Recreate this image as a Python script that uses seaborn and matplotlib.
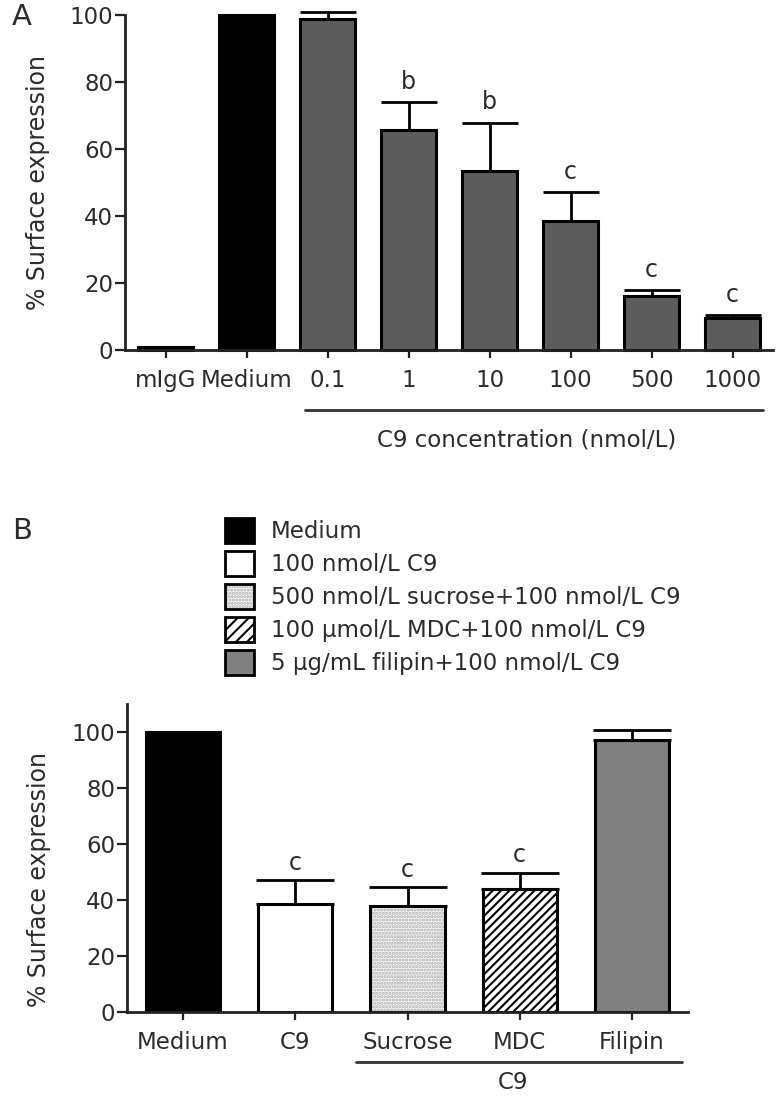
import numpy as np
import pandas as pd
import matplotlib
matplotlib.use('Agg')
import matplotlib.pyplot as plt
import matplotlib.patches as mpatches
from matplotlib.legend_handler import HandlerTuple
from matplotlib.transforms import blended_transform_factory
import seaborn as sns

# panel A data
a_groups = ['mIgG', 'Medium', '0.1', '1', '10', '100', '500', '1000']
a_means = [1.0, 100, 98.8, 65.7, 53.5, 38.6, 16.1, 9.5]
a_err = [0, 0, 2.0, 8.2, 14.4, 8.5, 1.8, 0.8]
a_marks = ['', '', '', 'b', 'b', 'c', 'c', 'c']
a_colors = ['#5c5c5c', '#000000', '#5c5c5c', '#5c5c5c', '#5c5c5c', '#5c5c5c', '#5c5c5c', '#5c5c5c']

# panel B data
b_groups = ['Medium', 'C9', 'Sucrose', 'MDC', 'Filipin']
b_legend = ['Medium', '100 nmol/L C9', '500 nmol/L sucrose+100 nmol/L C9',
            '100 µmol/L MDC+100 nmol/L C9', '5 µg/mL filipin+100 nmol/L C9']
b_means = [100, 38.5, 37.9, 43.8, 97.3]
b_err = [0, 8.6, 6.7, 6.0, 3.5]
b_marks = ['', 'c', 'c', 'c', '']
b_colors = ['#000000', '#ffffff', '#f4f4f4', '#ffffff', '#808080']
b_hatches = [None, None, '.....', '////', None]

sns.set_style('ticks')
plt.rcParams['font.family'] = ['DejaVu Sans']
plt.rcParams['hatch.linewidth'] = 1.5
txt = '#2b2b2b'

fig = plt.figure(figsize=(7.77, 10.99), dpi=100)
W, H = 777, 1099


def style_axis(ax):
    sns.despine(ax=ax)
    for s in ['left', 'bottom']:
        ax.spines[s].set_linewidth(2)
        ax.spines[s].set_color('#222222')
    ax.tick_params(axis='y', labelsize=16.5, length=7, width=1.6, pad=1.5,
                   colors='#222222', labelcolor=txt)
    ax.tick_params(axis='x', labelsize=16.5, length=6, width=1.6, pad=8,
                   colors='#222222', labelcolor=txt)
    ax.set_xlabel('')


# ---------------- Panel A ----------------
axA = fig.add_axes([125 / W, 1 - 350 / H, (773 - 125) / W, 335 / H])
dfA = pd.DataFrame({'group': a_groups, 'value': a_means})
sns.barplot(data=dfA, x='group', y='value', hue='group', palette=a_colors,
            legend=False, width=0.68, edgecolor='black', linewidth=2.2,
            errorbar=None, ax=axA)
for p in axA.patches:
    p.set_clip_on(False)
idx = [i for i, e in enumerate(a_err) if e > 0]
axA.errorbar(idx, [a_means[i] for i in idx],
             yerr=[np.zeros(len(idx)), [a_err[i] for i in idx]],
             fmt='none', ecolor='black', elinewidth=2, capsize=20, capthick=2,
             clip_on=False, zorder=0.5)
for i, m in enumerate(a_marks):
    if m:
        axA.text(i, a_means[i] + a_err[i] + 2.5, m, ha='center', va='bottom',
                 fontsize=17, color=txt)
axA.set_xlim(-0.5, 7.5)
axA.set_ylim(0, 100)
axA.set_yticks(range(0, 101, 20))
style_axis(axA)
axA.set_ylabel('% Surface expression', fontsize=17, color=txt)
axA.yaxis.set_label_coords(-0.115, 0.5)
trA = blended_transform_factory(axA.transData, axA.transAxes)
axA.plot([1.72, 7.38], [-0.179, -0.179], transform=trA, clip_on=False,
         color='#333333', lw=2)
axA.text(4.46, -0.269, 'C9 concentration (nmol/L)', transform=trA,
         ha='center', va='center', fontsize=16.5, color=txt)

# ---------------- Panel B ----------------
axB = fig.add_axes([127 / W, 1 - 1012 / H, (688 - 127) / W, 308 / H])
dfB = pd.DataFrame({'group': b_groups, 'value': b_means})
sns.barplot(data=dfB, x='group', y='value', hue='group', palette=b_colors,
            legend=False, width=0.66, edgecolor='black', linewidth=2.2,
            errorbar=None, ax=axB)
bars = list(axB.patches)
for p, h in zip(bars, b_hatches):
    if h == '////':
        p.set_hatch(h)
    elif h:
        # light dotted fill behind the black outline
        bg = mpatches.Rectangle(p.get_xy(), p.get_width(), p.get_height(),
                                facecolor='#f4f4f4', edgecolor='#b0b0b0',
                                hatch=h, lw=0, zorder=p.get_zorder() - 0.1)
        axB.add_patch(bg)
        p.set_facecolor('none')
idx = [i for i, e in enumerate(b_err) if e > 0]
axB.errorbar(idx, [b_means[i] for i in idx],
             yerr=[np.zeros(len(idx)), [b_err[i] for i in idx]],
             fmt='none', ecolor='black', elinewidth=2, capsize=28, capthick=2,
             clip_on=False, zorder=0.5)
for i, m in enumerate(b_marks):
    if m:
        axB.text(i, b_means[i] + b_err[i] + 2, m, ha='center', va='bottom',
                 fontsize=17, color=txt)
axB.set_xlim(-0.5, 4.5)
axB.set_ylim(0, 110)
axB.set_yticks(range(0, 101, 20))
style_axis(axB)
axB.set_ylabel('% Surface expression', fontsize=17, color=txt)
axB.yaxis.set_label_coords(-0.135, 0.43)
trB = blended_transform_factory(axB.transData, axB.transAxes)
axB.plot([1.54, 4.45], [-0.162, -0.162], transform=trB, clip_on=False,
         color='#333333', lw=2)
axB.text(2.94, -0.23, 'C9', transform=trB, ha='center', va='center',
         fontsize=16.5, color=txt)

# legend for panel B
handles = []
for c, h in zip(b_colors, b_hatches):
    if h and h != '////':
        handles.append((mpatches.Patch(facecolor=c, edgecolor='#b0b0b0', hatch=h, lw=0),
                        mpatches.Patch(facecolor='none', edgecolor='black', lw=2)))
    else:
        handles.append(mpatches.Patch(facecolor=c, edgecolor='black',
                                      hatch=('///' if h else None), lw=2))
fig.legend(handles, b_legend, loc='upper left',
           bbox_to_anchor=(225 / W, 1 - 518 / H), frameon=False,
           fontsize=16.5, labelcolor=txt, handlelength=1.25, handleheight=1.3,
           handletextpad=0.75, labelspacing=0.34, borderpad=0, borderaxespad=0,
           handler_map={tuple: HandlerTuple(ndivide=1, pad=0)})

fig.text(12 / W, 1 - 17 / H, 'A', fontsize=21, color=txt, ha='left', va='center')
fig.text(12 / W, 1 - 531 / H, 'B', fontsize=21, color=txt, ha='left', va='center')

fig.savefig('out.png', dpi=100)
